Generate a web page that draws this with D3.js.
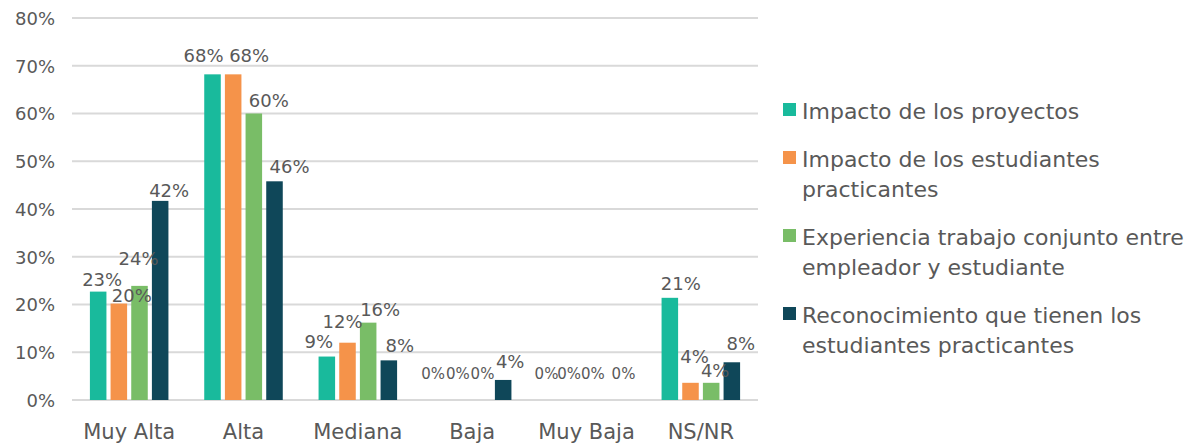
<!DOCTYPE html>
<html>
<head>
<meta charset="utf-8">
<script src="https://cdn.jsdelivr.net/npm/d3@7"></script>
<style>
  html, body { margin: 0; padding: 0; background: #fff; }
  svg { display: block; font-family: "DejaVu Sans", "Liberation Sans", sans-serif; }
</style>
</head>
<body>
<svg id="chart" width="1188" height="444"></svg>
<script>
// ---- Data ----
const categories = ["Muy Alta", "Alta", "Mediana", "Baja", "Muy Baja", "NS/NR"];
const seriesNames = [
  "Impacto de los proyectos",
  "Impacto de los estudiantes practicantes",
  "Experiencia trabajo conjunto entre empleador y estudiante",
  "Reconocimiento que tienen los estudiantes practicantes"
];
const legendLines = [
  ["Impacto de los proyectos"],
  ["Impacto de los estudiantes", "practicantes"],
  ["Experiencia trabajo conjunto entre", "empleador y estudiante"],
  ["Reconocimiento que tienen los", "estudiantes practicantes"]
];
const impactoProyectos      = [0.227, 0.682, 0.091, 0.000, 0.000, 0.214];
const impactoEstudiantes    = [0.202, 0.682, 0.120, 0.000, 0.000, 0.036];
const experienciaConjunta   = [0.239, 0.600, 0.162, 0.000, 0.000, 0.036];
const reconocimiento        = [0.417, 0.458, 0.083, 0.042, 0.000, 0.079];
const seriesValues = [impactoProyectos, impactoEstudiantes, experienciaConjunta, reconocimiento];
const yTicks = [0, 0.1, 0.2, 0.3, 0.4, 0.5, 0.6, 0.7, 0.8];

// ---- Styles / label placement (as in the original chart's hand-placed labels) ----
const colors = ["#19BA9C", "#F5934A", "#79BD67", "#0F4759"];
const labelNudgeX = [
  [4, -9, -8, -8, -9, 11],
  [13, 16, -5, -4, -7, 4],
  [-1, 15, 12, 0, -4, 4],
  [9, 15, 11, 7, 6, 9]
];
const labelGap = [
  [6, 12, 9, 21, 21, 8],
  [2, 12, 15, 21, 21, 20],
  [21, 7, 7, 21, 21, 6],
  [4, 8, 8, 12, 21, 12]
];

// ---- Layout ----
const svg = d3.select("#chart");
const plot = { left: 72, right: 758, top: 18, bottom: 400 };
const textColor = "#595959";

const x0 = d3.scaleBand().domain(categories).range([plot.left, plot.right])
  .paddingInner(0.277).paddingOuter(0.1385);
const x1 = d3.scaleBand().domain(d3.range(seriesNames.length)).range([0, x0.bandwidth()])
  .paddingInner(0.2).paddingOuter(0.1);
const y = d3.scaleLinear().domain([0, 0.8]).range([plot.bottom, plot.top]);

// gridlines
svg.append("g").selectAll("line").data(yTicks).join("line")
  .attr("x1", plot.left).attr("x2", plot.right)
  .attr("y1", d => y(d)).attr("y2", d => y(d))
  .attr("stroke", "#D9D9D9").attr("stroke-width", 2);

// y axis labels
const yAxis = d3.axisLeft(y).tickValues(yTicks).tickFormat(d3.format(".0%")).tickSize(0).tickPadding(0);
const yg = svg.append("g").attr("transform", `translate(55,0)`).call(yAxis);
yg.select(".domain").remove();
yg.selectAll("text").attr("fill", textColor).style("font-size", "18px")
  .style("font-family", "DejaVu Sans, sans-serif").attr("dy", "0.36em");

// x axis labels
const xAxis = d3.axisBottom(x0).tickSize(0).tickPadding(0);
const xg = svg.append("g").attr("transform", `translate(0,${plot.bottom})`).call(xAxis);
xg.select(".domain").remove();
xg.selectAll("text").attr("fill", textColor).style("font-size", "21px")
  .style("font-family", "DejaVu Sans, sans-serif").attr("dy", null).attr("y", 39);

// bars
const flat = [];
categories.forEach((c, ci) => seriesValues.forEach((vals, si) => flat.push({ c, ci, si, v: vals[ci] })));

svg.append("g").selectAll("rect").data(flat).join("rect")
  .attr("x", d => x0(d.c) + x1(d.si))
  .attr("width", x1.bandwidth())
  .attr("y", d => y(d.v))
  .attr("height", d => y(0) - y(d.v))
  .attr("fill", d => colors[d.si]);

// data labels
const fmt = d3.format(".0%");
svg.append("g").selectAll("text").data(flat).join("text")
  .attr("x", d => x0(d.c) + x1(d.si) + x1.bandwidth() / 2 + labelNudgeX[d.si][d.ci])
  .attr("y", d => y(d.v) - labelGap[d.si][d.ci])
  .attr("text-anchor", "middle")
  .attr("fill", textColor)
  .style("font-size", d => d.v === 0 ? "15px" : "18px")
  .text(d => fmt(d.v));

// legend
const legend = svg.append("g");
let baseY = 119;
legendLines.forEach((lines, i) => {
  legend.append("rect").attr("x", 783).attr("y", baseY - 16).attr("width", 13).attr("height", 13)
    .attr("fill", colors[i]);
  lines.forEach((ln, li) => {
    legend.append("text").attr("x", 802).attr("y", baseY + li * 30)
      .attr("fill", textColor).style("font-size", "22px").text(ln);
  });
  baseY += (lines.length - 1) * 30 + 48;
});
</script>
</body>
</html>
